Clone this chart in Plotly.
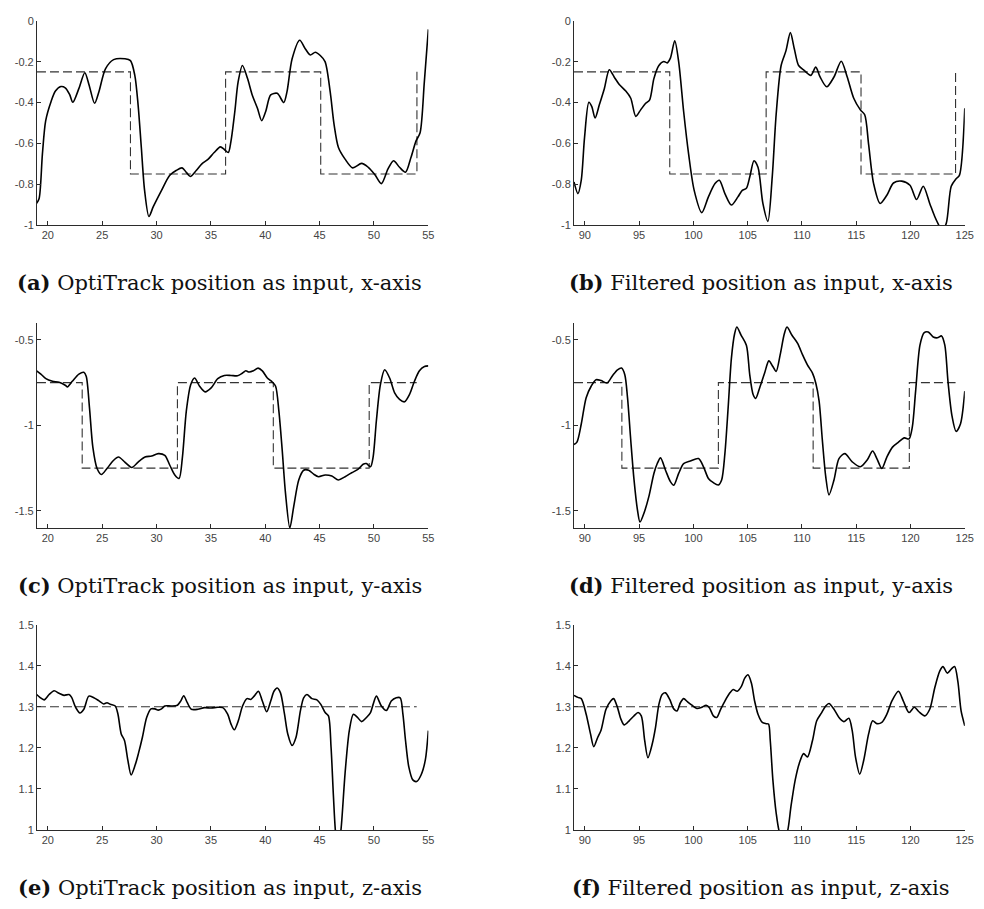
import plotly.graph_objects as go

# ---- measured position (solid) and reference set-point (dashed) ----
# (a) OptiTrack input, x-axis
a_t = [18.97, 19.2, 19.5, 19.8, 20.3, 20.7, 21.2, 21.6, 22.0, 22.3, 22.86, 23.4, 23.8, 24.3, 24.7,
       25.3, 26.05, 27.1, 27.6, 28.0, 28.3, 28.6, 28.9, 29.3, 29.7, 30.46, 31.2, 31.8, 32.35, 32.74,
       33.1, 33.65, 34.17, 34.7, 35.3, 35.87, 36.24, 36.6, 36.85, 37.2, 37.5, 37.9, 38.37, 38.8,
       39.28, 39.67, 40.04, 40.5, 41.1, 41.7, 42.0, 42.47, 43.17, 43.69, 44.14, 44.6, 45.06, 45.5,
       45.97, 46.33, 46.73, 47.34, 48.04, 48.86, 49.47, 50.07, 50.68, 51.29, 51.8, 52.35, 52.9,
       53.4, 53.87, 54.24, 54.63, 55.0]
a_pos = [-0.894, -0.87, -0.653, -0.49, -0.395, -0.344, -0.322, -0.328, -0.36, -0.399, -0.331,
         -0.254, -0.315, -0.404, -0.347, -0.235, -0.19, -0.186, -0.195, -0.267, -0.41, -0.62,
         -0.83, -0.958, -0.91, -0.83, -0.757, -0.733, -0.72, -0.742, -0.762, -0.733, -0.70,
         -0.68, -0.645, -0.617, -0.63, -0.645, -0.588, -0.444, -0.30, -0.219, -0.283, -0.363,
         -0.428, -0.489, -0.444, -0.363, -0.355, -0.40, -0.347, -0.186, -0.095, -0.138, -0.167,
         -0.154, -0.17, -0.20, -0.347, -0.508, -0.62, -0.677, -0.72, -0.698, -0.717, -0.752,
         -0.797, -0.725, -0.685, -0.717, -0.741, -0.669, -0.588, -0.548, -0.30, -0.042]
a_ref_t = [19.0, 27.6, 36.35, 45.1, 53.95]
a_ref = [-0.25, -0.75, -0.25, -0.75, -0.25]

# (b) Filtered input, x-axis
b_t = [89.0, 89.36, 89.67, 89.97, 90.37, 90.64, 90.94, 91.34, 91.8, 92.25, 92.7, 93.17, 93.77,
       94.23, 94.69, 95.14, 95.6, 95.97, 96.36, 96.82, 97.27, 97.58, 97.88, 98.28, 98.64, 99.1,
       99.56, 100.07, 100.77, 101.38, 101.99, 102.39, 102.9, 103.5, 104.1, 104.5, 104.88, 105.19,
       105.58, 105.95, 106.4, 106.86, 107.26, 107.62, 108.08, 108.53, 108.93, 109.3, 109.69,
       110.2, 110.82, 111.27, 111.67, 112.28, 112.95, 113.62, 114.17, 114.77, 115.38, 115.78,
       116.14, 116.6, 117.2, 117.82, 118.43, 119.19, 119.95, 120.56, 121.17, 121.77, 122.23,
       122.6, 122.9, 123.3, 123.75, 124.2, 124.5, 125.0]
b_pos = [-0.789, -0.846, -0.78, -0.572, -0.399, -0.42, -0.476, -0.41, -0.331, -0.24, -0.275,
         -0.312, -0.344, -0.379, -0.468, -0.436, -0.404, -0.387, -0.283, -0.219, -0.199, -0.206,
         -0.183, -0.098, -0.20, -0.444, -0.653, -0.83, -0.939, -0.862, -0.797, -0.781, -0.846,
         -0.902, -0.862, -0.83, -0.82, -0.765, -0.685, -0.717, -0.894, -0.982, -0.765, -0.46,
         -0.219, -0.146, -0.058, -0.138, -0.219, -0.243, -0.267, -0.227, -0.275, -0.323, -0.275,
         -0.198, -0.275, -0.379, -0.436, -0.46, -0.605, -0.797, -0.894, -0.854, -0.794, -0.785,
         -0.805, -0.875, -0.81, -0.894, -0.958, -1.0, -1.03, -0.99, -0.81, -0.773, -0.757, -0.428]
b_ref_t = [89.0, 97.82, 106.7, 115.44, 124.15]
b_ref = [-0.25, -0.75, -0.25, -0.75, -0.25]

# (c) OptiTrack input, y-axis
c_t = [18.97, 19.36, 19.82, 20.43, 21.03, 21.64, 21.8, 22.25, 22.86, 23.31, 23.53, 23.83, 24.14,
       24.53, 24.93, 25.44, 26.05, 26.5, 27.12, 27.72, 28.33, 28.94, 29.55, 30.16, 30.76, 31.22,
       31.68, 32.07, 32.38, 32.74, 33.14, 33.5, 33.96, 34.47, 35.02, 35.63, 36.24, 36.85, 37.45,
       37.91, 38.21, 38.52, 38.91, 39.34, 39.73, 40.19, 40.64, 40.95, 41.25, 41.56, 41.86, 42.26,
       42.62, 43.08, 43.53, 43.99, 44.45, 44.9, 45.51, 46.12, 46.73, 47.34, 47.95, 48.55, 49.0,
       49.3, 49.68, 49.92, 50.22, 50.59, 50.98, 51.44, 51.9, 52.35, 52.81, 53.27, 53.72, 54.18,
       54.64, 55.0]
c_pos = [-0.681, -0.70, -0.727, -0.742, -0.748, -0.767, -0.775, -0.742, -0.70, -0.69, -0.713,
         -0.896, -1.127, -1.252, -1.287, -1.252, -1.204, -1.185, -1.217, -1.246, -1.213, -1.185,
         -1.179, -1.165, -1.175, -1.233, -1.29, -1.31, -1.185, -0.915, -0.762, -0.723, -0.771,
         -0.804, -0.781, -0.727, -0.708, -0.708, -0.71, -0.694, -0.681, -0.688, -0.681, -0.665,
         -0.681, -0.723, -0.746, -0.771, -0.915, -1.146, -1.396, -1.60, -1.473, -1.319, -1.262,
         -1.262, -1.285, -1.30, -1.29, -1.296, -1.319, -1.30, -1.277, -1.256, -1.227, -1.223,
         -1.242, -1.185, -0.973, -0.762, -0.675, -0.723, -0.81, -0.848, -0.862, -0.819, -0.742,
         -0.681, -0.656, -0.652]
c_ref_t = [19.0, 23.16, 31.92, 40.74, 49.56, 53.93]
c_ref = [-0.75, -1.25, -0.75, -1.25, -0.75, -0.75]

# (d) Filtered input, y-axis
d_t = [89.0, 89.27, 89.67, 90.12, 90.58, 91.03, 91.49, 92.04, 92.56, 93.01, 93.38, 93.68, 93.93,
       94.23, 94.53, 94.84, 95.08, 95.45, 95.9, 96.36, 96.67, 96.97, 97.43, 97.88, 98.19, 98.64,
       99.1, 99.71, 100.47, 100.93, 101.38, 101.84, 102.3, 102.6, 102.9, 103.2, 103.5, 103.8,
       104.0, 104.4, 104.88, 105.19, 105.5, 105.74, 106.1, 106.56, 106.95, 107.32, 107.62,
       107.99, 108.38, 108.62, 109.08, 109.6, 110.06, 110.5, 110.97, 111.27, 111.58, 111.88,
       112.19, 112.49, 112.95, 113.41, 113.95, 114.63, 115.38, 115.99, 116.51, 116.9, 117.36,
       117.82, 118.34, 118.89, 119.43, 119.86, 120.16, 120.47, 120.87, 121.26, 121.63, 122.09,
       122.48, 122.86, 123.16, 123.45, 123.82, 124.2, 124.6, 125.0]
d_pos = [-1.112, -1.098, -0.992, -0.838, -0.771, -0.733, -0.738, -0.752, -0.708, -0.675, -0.665,
         -0.704, -0.838, -1.088, -1.319, -1.492, -1.565, -1.512, -1.415, -1.281, -1.223, -1.19,
         -1.262, -1.329, -1.35, -1.281, -1.223, -1.208, -1.194, -1.242, -1.31, -1.335, -1.348,
         -1.319, -1.165, -0.896, -0.608, -0.463, -0.425, -0.473, -0.531, -0.704, -0.819, -0.842,
         -0.781, -0.694, -0.623, -0.656, -0.685, -0.588, -0.463, -0.425, -0.473, -0.521, -0.588,
         -0.646, -0.694, -0.752, -0.858, -1.088, -1.30, -1.406, -1.319, -1.194, -1.165, -1.213,
         -1.242, -1.204, -1.15, -1.194, -1.252, -1.185, -1.127, -1.098, -1.073, -1.079, -1.012,
         -0.80, -0.531, -0.458, -0.454, -0.483, -0.488, -0.477, -0.531, -0.742, -0.944, -1.035,
         -0.992, -0.80]
d_ref_t = [89.0, 93.41, 102.3, 111.03, 119.89, 124.15]
d_ref = [-0.75, -1.25, -0.75, -1.25, -0.75, -0.75]

# (e) OptiTrack input, z-axis
e_t = [18.97, 19.27, 19.67, 20.12, 20.58, 21.03, 21.49, 21.95, 22.19, 22.55, 22.95, 23.31, 23.77,
       24.23, 24.68, 25.14, 25.44, 25.75, 26.2, 26.45, 26.75, 27.05, 27.36, 27.66, 28.03, 28.33,
       28.7, 29.09, 29.49, 29.85, 30.16, 30.46, 30.76, 31.37, 31.92, 32.22, 32.5, 32.83, 33.2,
       33.8, 34.41, 35.02, 35.63, 36.09, 36.54, 36.85, 37.15, 37.52, 37.91, 38.31, 38.67, 38.98,
       39.37, 39.73, 40.13, 40.5, 40.8, 41.1, 41.4, 41.77, 42.07, 42.47, 42.83, 43.23, 43.53,
       43.83, 44.29, 44.75, 45.11, 45.51, 45.81, 46.05, 46.27, 46.48, 46.72, 46.97, 47.34, 47.73,
       48.1, 48.46, 48.86, 49.31, 49.68, 49.92, 50.22, 50.68, 51.14, 51.59, 52.05, 52.41, 52.66,
       52.9, 53.2, 53.57, 53.93, 54.33, 54.72, 55.0]
e_pos = [1.330, 1.323, 1.317, 1.330, 1.339, 1.333, 1.328, 1.330, 1.323, 1.299, 1.285, 1.294,
         1.326, 1.322, 1.315, 1.307, 1.310, 1.306, 1.302, 1.282, 1.234, 1.218, 1.170, 1.134,
         1.158, 1.186, 1.226, 1.274, 1.295, 1.295, 1.292, 1.295, 1.302, 1.302, 1.304, 1.314,
         1.327, 1.310, 1.294, 1.294, 1.298, 1.297, 1.299, 1.298, 1.282, 1.258, 1.244, 1.266,
         1.302, 1.320, 1.318, 1.326, 1.338, 1.314, 1.288, 1.314, 1.338, 1.346, 1.334, 1.282,
         1.234, 1.206, 1.226, 1.290, 1.322, 1.330, 1.320, 1.317, 1.306, 1.286, 1.278, 1.202,
         1.082, 0.990, 0.955, 1.002, 1.138, 1.242, 1.282, 1.275, 1.264, 1.274, 1.286, 1.306,
         1.326, 1.302, 1.291, 1.314, 1.322, 1.322, 1.282, 1.218, 1.154, 1.122, 1.118, 1.134,
         1.170, 1.242]
e_ref_t = [19.0, 53.93]
e_ref = [1.3, 1.3]

# (f) Filtered input, z-axis
f_t = [89.0, 89.36, 89.67, 90.12, 90.52, 90.82, 91.19, 91.49, 91.95, 92.4, 92.65, 93.01, 93.32,
       93.62, 94.08, 94.53, 94.9, 95.2, 95.51, 95.81, 96.21, 96.51, 96.82, 97.12, 97.43, 97.82,
       98.19, 98.49, 98.8, 99.1, 99.47, 99.86, 100.32, 100.77, 101.17, 101.47, 101.84, 102.14,
       102.51, 102.9, 103.36, 103.66, 104.03, 104.42, 104.73, 105.03, 105.34, 105.64, 105.95,
       106.35, 106.71, 106.92, 107.08, 107.32, 107.62, 107.93, 108.32, 108.68, 108.99, 109.38,
       109.75, 110.15, 110.51, 110.97, 111.36, 111.82, 112.19, 112.49, 112.95, 113.41, 113.86,
       114.32, 114.63, 114.93, 115.32, 115.69, 116.14, 116.51, 116.9, 117.36, 117.82, 118.28,
       118.89, 119.34, 119.86, 120.35, 120.77, 121.32, 121.77, 122.23, 122.69, 122.99, 123.39,
       123.75, 124.06, 124.36, 124.66, 125.0]
f_pos = [1.328, 1.323, 1.320, 1.282, 1.234, 1.203, 1.226, 1.243, 1.294, 1.315, 1.320, 1.298,
         1.270, 1.256, 1.266, 1.278, 1.286, 1.278, 1.218, 1.176, 1.210, 1.250, 1.306, 1.330,
         1.334, 1.318, 1.295, 1.290, 1.310, 1.320, 1.312, 1.304, 1.296, 1.299, 1.304, 1.298,
         1.278, 1.274, 1.294, 1.314, 1.334, 1.342, 1.338, 1.350, 1.370, 1.378, 1.358, 1.314,
         1.282, 1.262, 1.259, 1.258, 1.218, 1.122, 1.042, 0.994, 0.975, 0.998, 1.058, 1.122,
         1.162, 1.186, 1.178, 1.218, 1.266, 1.286, 1.302, 1.308, 1.294, 1.274, 1.264, 1.272,
         1.242, 1.178, 1.136, 1.170, 1.234, 1.266, 1.259, 1.262, 1.282, 1.314, 1.338, 1.314,
         1.286, 1.299, 1.288, 1.278, 1.294, 1.346, 1.387, 1.398, 1.382, 1.392, 1.398, 1.362,
         1.290, 1.254]
f_ref_t = [89.0, 124.2]
f_ref = [1.3, 1.3]

# ---- axis ticks ----
left_xticks = [20, 25, 30, 35, 40, 45, 50, 55]
right_xticks = [90, 95, 100, 105, 110, 115, 120, 125]
x_yticks = [0, -0.2, -0.4, -0.6, -0.8, -1]
x_ylabels = ["0", "-0.2", "-0.4", "-0.6", "-0.8", "-1"]
y_yticks = [-0.5, -1, -1.5]
y_ylabels = ["-0.5", "-1", "-1.5"]
z_yticks = [1, 1.1, 1.2, 1.3, 1.4, 1.5]
z_ylabels = ["1", "1.1", "1.2", "1.3", "1.4", "1.5"]

captions = [
    "<b>(a)</b> OptiTrack position as input, x-axis",
    "<b>(b)</b> Filtered position as input, x-axis",
    "<b>(c)</b> OptiTrack position as input, y-axis",
    "<b>(d)</b> Filtered position as input, y-axis",
    "<b>(e)</b> OptiTrack position as input, z-axis",
    "<b>(f)</b> Filtered position as input, z-axis",
]

W, H = 984, 909
col_px = [(37.3, 432.3), (579.3, 973.7)]
row_px = [(15, 222), (321, 529), (627, 835)]
caption_cx = [222, 768]
caption_cy = [280, 587, 893]

panels = [
    (a_t, a_pos, a_ref_t, a_ref, [19, 55], [-1, 0], left_xticks, x_yticks, x_ylabels),
    (b_t, b_pos, b_ref_t, b_ref, [89, 125], [-1, 0], right_xticks, x_yticks, x_ylabels),
    (c_t, c_pos, c_ref_t, c_ref, [19, 55], [-1.6, -0.4], left_xticks, y_yticks, y_ylabels),
    (d_t, d_pos, d_ref_t, d_ref, [89, 125], [-1.6, -0.4], right_xticks, y_yticks, y_ylabels),
    (e_t, e_pos, e_ref_t, e_ref, [19, 55], [1, 1.5], left_xticks, z_yticks, z_ylabels),
    (f_t, f_pos, f_ref_t, f_ref, [89, 125], [1, 1.5], right_xticks, z_yticks, z_ylabels),
]

AX = "#2b2b2b"
TICKFONT = dict(family="Liberation Sans, Arial, sans-serif", size=11, color="#444444")

fig = go.Figure()
layout = dict(
    width=W, height=H,
    margin=dict(l=0, r=0, t=0, b=0),
    paper_bgcolor="white", plot_bgcolor="white",
    showlegend=False,
    annotations=[],
)

for i, (t, pos, rt, rv, xr, yr, xt, yt, yl) in enumerate(panels):
    r, c = divmod(i, 2)
    n = "" if i == 0 else str(i + 1)
    xa, ya = "x" + n, "y" + n
    fig.add_trace(go.Scatter(
        x=rt, y=rv, mode="lines", line=dict(color="#333333", width=1.1, dash="9px,4px", shape="hv"),
        xaxis=xa, yaxis=ya, hoverinfo="skip"))
    fig.add_trace(go.Scatter(
        x=t, y=pos, mode="lines", line=dict(color="black", width=1.6, shape="spline", smoothing=0.8),
        xaxis=xa, yaxis=ya))
    x0, x1 = col_px[c]
    y0, y1 = row_px[r]
    layout["xaxis" + n] = dict(
        domain=[x0 / W, x1 / W], range=xr, anchor=ya,
        showline=True, linecolor=AX, linewidth=1, mirror=False,
        ticks="inside", ticklen=4, tickcolor=AX, tickwidth=1,
        tickvals=xt, ticktext=[str(v) for v in xt],
        showgrid=False, zeroline=False, tickfont=TICKFONT, ticklabelstandoff=0,
    )
    layout["yaxis" + n] = dict(
        domain=[1 - y1 / H, 1 - y0 / H], range=yr, anchor=xa,
        showline=True, linecolor=AX, linewidth=1, mirror=False,
        ticks="inside", ticklen=4, tickcolor=AX, tickwidth=1,
        tickvals=yt, ticktext=yl,
        showgrid=False, zeroline=False, tickfont=TICKFONT,
    )
    layout["annotations"].append(dict(
        text=captions[i], xref="paper", yref="paper",
        x=caption_cx[c] / W, y=1 - caption_cy[r] / H,
        xanchor="center", yanchor="middle", showarrow=False,
        font=dict(family="DejaVu Serif, serif", size=21, color="#111111"),
    ))

fig.update_layout(**layout)
fig.write_html("out.html")
